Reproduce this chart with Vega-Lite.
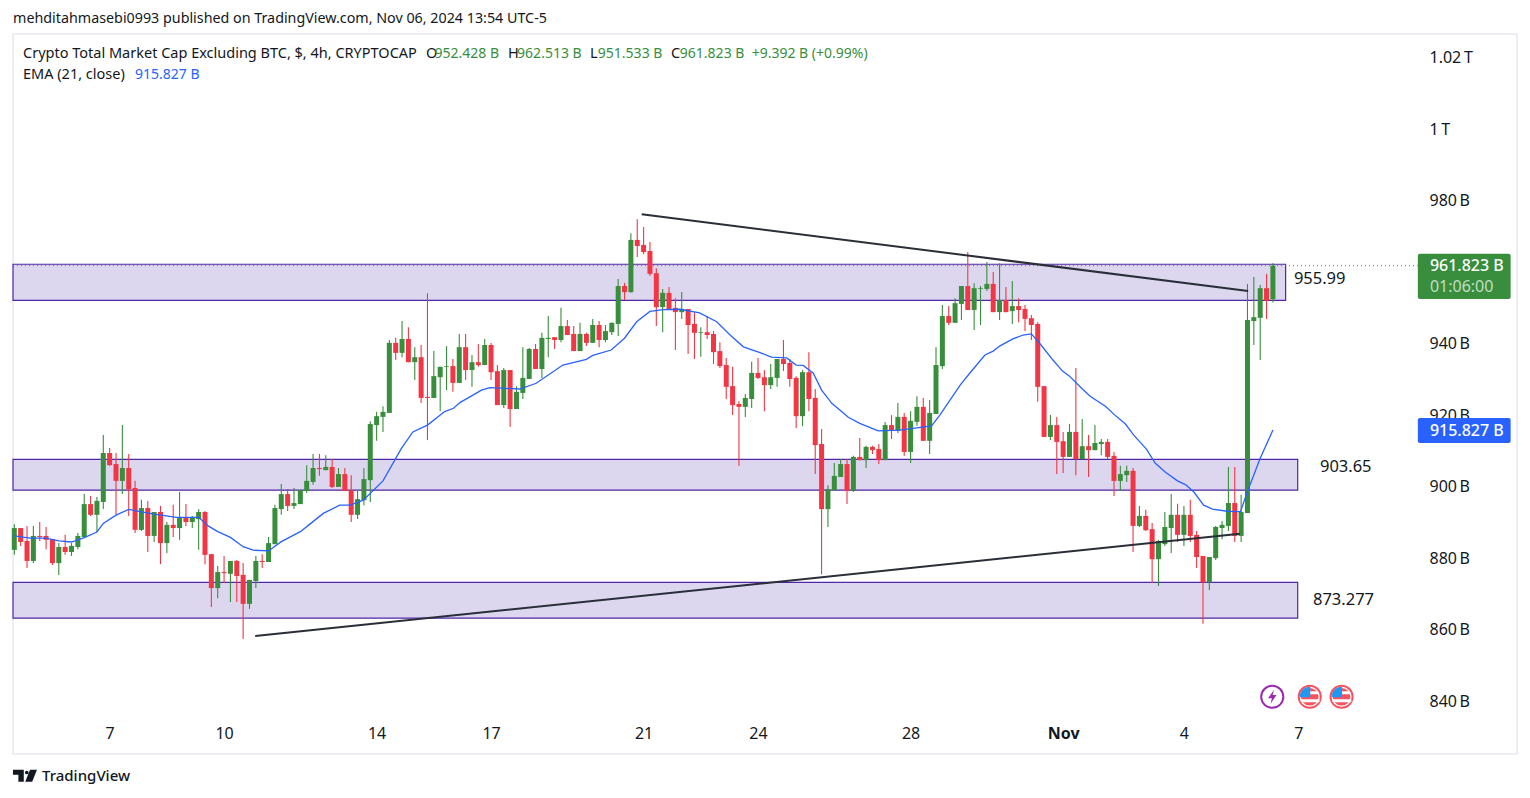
{"$schema":"https://vega.github.io/schema/vega-lite/v6.json","width":1504,"height":720,"autosize":{"type":"none"},"padding":{"left":13,"top":34,"right":13,"bottom":44},"background":"#ffffff","config":{"view":{"stroke":"#eceef4","strokeWidth":2},"font":"Noto Sans"},
"datasets":{
"candles":[{"i":0,"o":882.3,"h":889.5,"l":880.9,"c":888.4},{"i":1,"o":888.4,"h":888.4,"l":883.4,"c":884.5},{"i":2,"o":884.8,"h":889.0,"l":877.2,"c":879.2},{"i":3,"o":879.2,"h":889.0,"l":878.6,"c":886.2},{"i":4,"o":886.2,"h":890.1,"l":884.8,"c":885.9},{"i":5,"o":886.2,"h":888.7,"l":882.5,"c":885.1},{"i":6,"o":885.3,"h":885.3,"l":878.1,"c":878.6},{"i":7,"o":878.6,"h":884.2,"l":875.3,"c":883.1},{"i":8,"o":883.1,"h":886.5,"l":880.9,"c":881.7},{"i":9,"o":881.7,"h":884.2,"l":880.6,"c":883.4},{"i":10,"o":883.1,"h":887.0,"l":882.5,"c":886.2},{"i":11,"o":885.9,"h":897.9,"l":885.6,"c":895.1},{"i":12,"o":895.1,"h":897.4,"l":891.8,"c":892.1},{"i":13,"o":892.1,"h":897.1,"l":887.3,"c":896.0},{"i":14,"o":895.7,"h":914.4,"l":893.7,"c":909.4},{"i":15,"o":909.4,"h":910.8,"l":905.8,"c":906.0},{"i":16,"o":906.3,"h":909.4,"l":892.1,"c":901.6},{"i":17,"o":901.6,"h":917.2,"l":897.9,"c":905.2},{"i":18,"o":905.2,"h":909.1,"l":891.8,"c":899.3},{"i":19,"o":899.6,"h":901.6,"l":887.0,"c":887.9},{"i":20,"o":887.9,"h":896.3,"l":887.6,"c":894.0},{"i":21,"o":894.0,"h":896.0,"l":881.7,"c":886.2},{"i":22,"o":886.2,"h":892.9,"l":884.5,"c":892.9},{"i":23,"o":892.9,"h":894.6,"l":878.3,"c":884.2},{"i":24,"o":884.2,"h":890.1,"l":881.4,"c":889.3},{"i":25,"o":889.3,"h":894.9,"l":885.9,"c":888.4},{"i":26,"o":888.4,"h":898.5,"l":885.1,"c":891.5},{"i":27,"o":891.5,"h":895.1,"l":889.0,"c":890.1},{"i":28,"o":890.1,"h":891.8,"l":888.4,"c":891.5},{"i":29,"o":890.9,"h":893.7,"l":882.3,"c":892.9},{"i":30,"o":892.9,"h":893.2,"l":878.3,"c":880.9},{"i":31,"o":881.1,"h":881.1,"l":866.3,"c":871.6},{"i":32,"o":871.6,"h":877.8,"l":868.8,"c":876.1},{"i":33,"o":876.1,"h":880.6,"l":873.0,"c":875.8},{"i":34,"o":875.6,"h":879.2,"l":867.7,"c":879.2},{"i":35,"o":879.2,"h":879.5,"l":867.7,"c":875.0},{"i":36,"o":875.3,"h":878.6,"l":857.4,"c":867.2},{"i":37,"o":867.2,"h":873.9,"l":865.8,"c":873.9},{"i":38,"o":873.6,"h":880.6,"l":871.6,"c":879.2},{"i":39,"o":879.2,"h":881.1,"l":877.2,"c":878.9},{"i":40,"o":878.9,"h":885.9,"l":878.9,"c":884.2},{"i":41,"o":883.9,"h":894.9,"l":883.9,"c":894.0},{"i":42,"o":893.7,"h":900.7,"l":892.1,"c":897.9},{"i":43,"o":897.9,"h":899.3,"l":893.2,"c":894.6},{"i":44,"o":894.6,"h":899.6,"l":893.7,"c":895.4},{"i":45,"o":895.1,"h":899.0,"l":895.1,"c":899.0},{"i":46,"o":898.8,"h":906.0,"l":898.2,"c":901.6},{"i":47,"o":901.3,"h":909.1,"l":900.5,"c":905.2},{"i":48,"o":905.2,"h":909.1,"l":903.0,"c":904.9},{"i":49,"o":904.6,"h":908.8,"l":904.6,"c":905.5},{"i":50,"o":905.5,"h":907.7,"l":899.6,"c":899.9},{"i":51,"o":899.9,"h":905.2,"l":899.9,"c":903.5},{"i":52,"o":903.5,"h":905.2,"l":898.8,"c":898.8},{"i":53,"o":899.0,"h":903.2,"l":890.1,"c":892.1},{"i":54,"o":892.1,"h":899.0,"l":890.9,"c":896.5},{"i":55,"o":896.2,"h":905.2,"l":894.8,"c":902.1},{"i":56,"o":901.8,"h":918.3,"l":895.7,"c":917.5},{"i":57,"o":917.2,"h":920.9,"l":912.8,"c":919.7},{"i":58,"o":919.5,"h":922.5,"l":915.3,"c":920.9},{"i":59,"o":920.6,"h":941.0,"l":920.6,"c":940.2},{"i":60,"o":940.2,"h":941.6,"l":935.4,"c":937.4},{"i":61,"o":937.4,"h":946.3,"l":936.2,"c":941.3},{"i":62,"o":941.3,"h":944.6,"l":934.8,"c":934.8},{"i":63,"o":934.8,"h":939.0,"l":929.8,"c":936.2},{"i":64,"o":936.2,"h":939.6,"l":923.4,"c":924.8},{"i":65,"o":925.1,"h":954.1,"l":913.0,"c":924.8},{"i":66,"o":924.8,"h":937.9,"l":924.8,"c":930.9},{"i":67,"o":930.6,"h":933.5,"l":921.1,"c":933.5},{"i":68,"o":933.5,"h":939.3,"l":927.0,"c":933.7},{"i":69,"o":933.7,"h":935.7,"l":926.5,"c":929.0},{"i":70,"o":929.0,"h":942.7,"l":929.0,"c":939.0},{"i":71,"o":939.0,"h":942.7,"l":929.8,"c":932.6},{"i":72,"o":932.6,"h":936.8,"l":927.9,"c":934.8},{"i":73,"o":934.8,"h":939.9,"l":933.5,"c":934.0},{"i":74,"o":934.0,"h":941.3,"l":934.0,"c":939.6},{"i":75,"o":939.6,"h":940.2,"l":929.8,"c":932.0},{"i":76,"o":932.3,"h":934.0,"l":922.8,"c":922.8},{"i":77,"o":922.8,"h":933.2,"l":922.0,"c":932.6},{"i":78,"o":932.6,"h":932.6,"l":916.7,"c":921.7},{"i":79,"o":921.7,"h":928.1,"l":921.7,"c":926.5},{"i":80,"o":926.2,"h":939.0,"l":924.5,"c":930.4},{"i":81,"o":930.1,"h":938.8,"l":930.1,"c":938.5},{"i":82,"o":938.5,"h":939.9,"l":932.9,"c":932.9},{"i":83,"o":932.9,"h":943.0,"l":930.4,"c":941.6},{"i":84,"o":941.3,"h":947.7,"l":936.2,"c":941.6},{"i":85,"o":941.8,"h":941.8,"l":938.5,"c":941.0},{"i":86,"o":941.0,"h":950.0,"l":940.4,"c":944.9},{"i":87,"o":944.9,"h":946.6,"l":942.4,"c":942.4},{"i":88,"o":942.7,"h":944.9,"l":937.9,"c":937.9},{"i":89,"o":937.9,"h":945.8,"l":937.9,"c":942.7},{"i":90,"o":942.7,"h":943.0,"l":939.3,"c":940.2},{"i":91,"o":940.2,"h":946.9,"l":940.2,"c":945.2},{"i":92,"o":945.2,"h":946.3,"l":939.0,"c":941.0},{"i":93,"o":941.0,"h":945.2,"l":940.4,"c":943.5},{"i":94,"o":943.2,"h":946.0,"l":942.4,"c":945.8},{"i":95,"o":945.5,"h":958.1,"l":942.1,"c":956.1},{"i":96,"o":956.1,"h":957.0,"l":952.2,"c":954.4},{"i":97,"o":954.4,"h":970.9,"l":954.2,"c":969.0},{"i":98,"o":969.0,"h":974.8,"l":964.2,"c":967.3},{"i":99,"o":967.6,"h":972.6,"l":965.0,"c":965.6},{"i":100,"o":965.9,"h":968.4,"l":958.9,"c":959.5},{"i":101,"o":959.7,"h":961.1,"l":944.9,"c":950.2},{"i":102,"o":950.2,"h":955.3,"l":943.2,"c":954.2},{"i":103,"o":954.2,"h":955.8,"l":949.7,"c":949.7},{"i":104,"o":950.0,"h":952.7,"l":938.2,"c":948.8},{"i":105,"o":948.8,"h":954.4,"l":946.9,"c":949.7},{"i":106,"o":949.7,"h":949.7,"l":937.1,"c":945.2},{"i":107,"o":945.5,"h":948.8,"l":935.7,"c":943.0},{"i":108,"o":943.0,"h":944.6,"l":936.3,"c":943.2},{"i":109,"o":943.2,"h":947.7,"l":941.3,"c":942.4},{"i":110,"o":942.7,"h":943.5,"l":934.3,"c":937.6},{"i":111,"o":937.9,"h":940.4,"l":933.2,"c":933.7},{"i":112,"o":934.0,"h":936.0,"l":924.5,"c":927.9},{"i":113,"o":928.1,"h":933.5,"l":920.0,"c":922.8},{"i":114,"o":923.1,"h":923.9,"l":905.8,"c":922.3},{"i":115,"o":922.3,"h":925.9,"l":919.5,"c":924.8},{"i":116,"o":924.5,"h":934.9,"l":922.0,"c":931.8},{"i":117,"o":931.8,"h":936.0,"l":930.1,"c":930.4},{"i":118,"o":930.6,"h":932.6,"l":921.1,"c":928.4},{"i":119,"o":928.4,"h":934.3,"l":927.3,"c":930.6},{"i":120,"o":930.4,"h":935.7,"l":927.9,"c":935.7},{"i":121,"o":935.7,"h":941.0,"l":932.3,"c":934.3},{"i":122,"o":934.6,"h":935.7,"l":927.9,"c":930.1},{"i":123,"o":930.4,"h":930.9,"l":916.4,"c":919.7},{"i":124,"o":919.7,"h":932.6,"l":916.9,"c":932.0},{"i":125,"o":932.0,"h":937.6,"l":921.1,"c":924.5},{"i":126,"o":924.8,"h":927.3,"l":903.5,"c":911.6},{"i":127,"o":911.9,"h":916.1,"l":875.5,"c":893.7},{"i":128,"o":893.7,"h":900.4,"l":888.7,"c":899.3},{"i":129,"o":899.0,"h":906.6,"l":899.0,"c":903.0},{"i":130,"o":902.7,"h":907.7,"l":902.7,"c":906.3},{"i":131,"o":906.3,"h":907.7,"l":895.1,"c":898.8},{"i":132,"o":898.8,"h":908.6,"l":898.5,"c":908.3},{"i":133,"o":908.3,"h":913.6,"l":907.4,"c":907.4},{"i":134,"o":907.4,"h":911.4,"l":905.2,"c":911.1},{"i":135,"o":911.1,"h":911.4,"l":909.1,"c":910.2},{"i":136,"o":910.5,"h":911.9,"l":906.3,"c":907.4},{"i":137,"o":907.4,"h":918.1,"l":907.4,"c":917.2},{"i":138,"o":917.2,"h":920.0,"l":913.3,"c":915.6},{"i":139,"o":915.6,"h":923.4,"l":915.0,"c":919.5},{"i":140,"o":919.5,"h":920.6,"l":908.6,"c":909.7},{"i":141,"o":909.7,"h":921.1,"l":906.6,"c":918.4},{"i":142,"o":918.1,"h":925.3,"l":917.0,"c":922.3},{"i":143,"o":922.3,"h":924.8,"l":912.8,"c":912.8},{"i":144,"o":912.8,"h":924.2,"l":909.1,"c":920.6},{"i":145,"o":920.3,"h":939.0,"l":920.3,"c":934.0},{"i":146,"o":933.7,"h":950.8,"l":932.9,"c":947.7},{"i":147,"o":947.7,"h":950.5,"l":945.2,"c":945.8},{"i":148,"o":945.8,"h":952.7,"l":945.8,"c":951.3},{"i":149,"o":951.1,"h":956.1,"l":946.6,"c":956.1},{"i":150,"o":956.1,"h":965.6,"l":949.4,"c":949.4},{"i":151,"o":949.4,"h":956.9,"l":943.8,"c":955.5},{"i":152,"o":955.3,"h":956.1,"l":945.2,"c":955.5},{"i":153,"o":955.3,"h":962.8,"l":954.7,"c":956.7},{"i":154,"o":956.7,"h":960.0,"l":948.8,"c":948.8},{"i":155,"o":948.8,"h":962.5,"l":946.6,"c":952.2},{"i":156,"o":952.2,"h":955.8,"l":948.8,"c":948.8},{"i":157,"o":949.1,"h":957.5,"l":945.5,"c":950.5},{"i":158,"o":950.5,"h":952.7,"l":946.0,"c":949.4},{"i":159,"o":949.7,"h":950.8,"l":943.5,"c":946.9},{"i":160,"o":947.1,"h":948.0,"l":941.0,"c":945.2},{"i":161,"o":945.5,"h":946.0,"l":923.7,"c":927.9},{"i":162,"o":928.1,"h":928.1,"l":913.9,"c":913.9},{"i":163,"o":913.9,"h":920.0,"l":913.0,"c":917.2},{"i":164,"o":917.2,"h":919.5,"l":903.5,"c":912.5},{"i":165,"o":912.7,"h":915.3,"l":903.8,"c":908.3},{"i":166,"o":908.3,"h":917.5,"l":908.3,"c":915.3},{"i":167,"o":915.3,"h":933.2,"l":903.2,"c":907.7},{"i":168,"o":907.7,"h":918.9,"l":907.7,"c":911.3},{"i":169,"o":911.3,"h":914.4,"l":902.7,"c":910.2},{"i":170,"o":910.2,"h":917.2,"l":910.2,"c":912.2},{"i":171,"o":911.9,"h":913.3,"l":908.8,"c":912.5},{"i":172,"o":912.5,"h":913.3,"l":907.7,"c":908.3},{"i":173,"o":908.6,"h":909.7,"l":897.4,"c":901.6},{"i":174,"o":901.6,"h":905.8,"l":898.8,"c":903.5},{"i":175,"o":903.2,"h":905.8,"l":901.3,"c":904.4},{"i":176,"o":904.4,"h":905.2,"l":881.7,"c":889.0},{"i":177,"o":889.0,"h":894.6,"l":888.7,"c":891.8},{"i":178,"o":891.8,"h":893.5,"l":887.6,"c":887.8},{"i":179,"o":888.1,"h":889.8,"l":873.0,"c":879.7},{"i":180,"o":879.7,"h":885.1,"l":872.2,"c":884.8},{"i":181,"o":883.9,"h":892.9,"l":883.4,"c":888.7},{"i":182,"o":888.4,"h":897.9,"l":881.4,"c":892.1},{"i":183,"o":892.1,"h":895.2,"l":884.5,"c":886.5},{"i":184,"o":886.5,"h":894.6,"l":883.4,"c":892.1},{"i":185,"o":892.1,"h":896.3,"l":884.5,"c":886.2},{"i":186,"o":886.5,"h":887.6,"l":877.2,"c":880.3},{"i":187,"o":880.6,"h":880.6,"l":861.6,"c":873.2},{"i":188,"o":873.2,"h":880.3,"l":871.1,"c":880.3},{"i":189,"o":880.0,"h":889.0,"l":879.5,"c":888.7},{"i":190,"o":888.4,"h":890.4,"l":885.3,"c":889.3},{"i":191,"o":889.0,"h":905.5,"l":887.6,"c":895.4},{"i":192,"o":895.4,"h":905.5,"l":884.5,"c":886.2},{"i":193,"o":886.2,"h":897.7,"l":884.5,"c":892.9},{"i":194,"o":892.6,"h":956.7,"l":892.6,"c":946.6},{"i":195,"o":946.3,"h":958.6,"l":939.6,"c":947.4},{"i":196,"o":947.2,"h":956.4,"l":935.4,"c":955.5},{"i":197,"o":955.5,"h":959.5,"l":946.9,"c":952.0},{"i":198,"o":952.4,"h":962.5,"l":951.5,"c":961.8}],
"ema":[{"i":0,"v":886.2},{"i":2.5,"v":885.6},{"i":5,"v":885.6},{"i":7,"v":884.8},{"i":9,"v":884.5},{"i":11,"v":885.7},{"i":13,"v":887.3},{"i":14,"v":889.7},{"i":16,"v":892.0},{"i":18,"v":893.6},{"i":20,"v":892.9},{"i":22,"v":892.3},{"i":25.5,"v":891.4},{"i":29,"v":891.4},{"i":30.5,"v":889.0},{"i":32,"v":887.4},{"i":34,"v":885.8},{"i":36,"v":883.2},{"i":37.6,"v":882.2},{"i":40,"v":882.0},{"i":42,"v":884.6},{"i":45,"v":887.4},{"i":46.5,"v":889.5},{"i":48.6,"v":892.5},{"i":51.2,"v":894.8},{"i":52.8,"v":894.8},{"i":54.9,"v":896.2},{"i":58,"v":901.6},{"i":60.9,"v":910.7},{"i":62.7,"v":915.3},{"i":65,"v":917.2},{"i":67.7,"v":921.0},{"i":69.1,"v":921.9},{"i":70.1,"v":923.5},{"i":73.5,"v":927.0},{"i":74.8,"v":927.7},{"i":79.5,"v":927.3},{"i":82.1,"v":928.9},{"i":86.3,"v":934.0},{"i":90,"v":935.6},{"i":91,"v":936.7},{"i":93.9,"v":938.2},{"i":96,"v":941.5},{"i":97.9,"v":946.1},{"i":100,"v":949.0},{"i":102.1,"v":949.5},{"i":104.7,"v":949.6},{"i":107.8,"v":948.6},{"i":110.5,"v":946.1},{"i":112.6,"v":942.4},{"i":114.7,"v":939.1},{"i":117.3,"v":937.5},{"i":119.1,"v":936.2},{"i":121.5,"v":936.0},{"i":123,"v":934.0},{"i":124.1,"v":933.9},{"i":125.7,"v":931.7},{"i":127,"v":927.0},{"i":128.6,"v":923.3},{"i":130.1,"v":921.1},{"i":131.2,"v":919.4},{"i":133,"v":917.7},{"i":135.9,"v":915.6},{"i":139.3,"v":915.8},{"i":142,"v":916.4},{"i":144.3,"v":917.0},{"i":145.6,"v":920.0},{"i":147.2,"v":924.2},{"i":148.8,"v":928.4},{"i":150.3,"v":931.7},{"i":152.7,"v":936.8},{"i":154,"v":937.9},{"i":155,"v":939.3},{"i":157.1,"v":941.3},{"i":158.7,"v":942.4},{"i":160,"v":942.7},{"i":161.3,"v":940.1},{"i":163.4,"v":935.4},{"i":164.9,"v":932.3},{"i":166,"v":930.9},{"i":167.9,"v":927.5},{"i":169.3,"v":925.2},{"i":171.7,"v":922.4},{"i":173,"v":920.2},{"i":174.8,"v":917.5},{"i":176.1,"v":914.4},{"i":178.1,"v":910.5},{"i":179.5,"v":906.5},{"i":181.1,"v":904.0},{"i":183,"v":901.6},{"i":184.3,"v":900.5},{"i":185.6,"v":898.4},{"i":187.1,"v":894.8},{"i":188.5,"v":893.7},{"i":190.8,"v":893.1},{"i":192.9,"v":893.0},{"i":194,"v":898.6},{"i":196,"v":907.9},{"i":198,"v":915.8}],
"zones":[{"a":-0.2,"b":200,"lo":952.1,"hi":962.2},{"a":-0.2,"b":201.9,"lo":899,"hi":907.6},{"a":-0.2,"b":201.9,"lo":863.2,"hi":873.2}],
"trends":[{"t":"up","i":98.7,"v":976.2},{"t":"up","i":194.1,"v":954.7},{"t":"low","i":37.9,"v":858.2},{"t":"low","i":192.8,"v":886.8}],
"last":[{"i":-0.2,"v":961.8},{"i":220.8,"v":961.8}],
"levels":[{"label":"955.99","i":201.3,"v":958.1},{"label":"903.65","i":205.4,"v":905.5},{"label":"873.277","i":204.3,"v":868.3}],
"headline":[{"label":"mehditahmasebi0993 published on TradingView.com, Nov 06, 2024 13:54 UTC-5","i":-0.2,"v":1030.8}],
"darktext":[{"label":"Crypto Total Market Cap Excluding BTC, $, 4h, CRYPTOCAP","i":1.37,"v":1021.0},{"label":"O","i":64.76,"v":1021.0},{"label":"H","i":77.66,"v":1021.0},{"label":"L","i":90.56,"v":1021.0},{"label":"C","i":103.3,"v":1021.0},{"label":"EMA (21, close)","i":1.37,"v":1015.1}],
"greentext":[{"label":"952.428 B","i":66.1,"v":1021.0},{"label":"962.513 B","i":79.1,"v":1021.0},{"label":"951.533 B","i":91.8,"v":1021.0},{"label":"961.823 B","i":104.7,"v":1021.0},{"label":"+9.392 B (+0.99%)","i":116.0,"v":1021.0}],
"bluetext":[{"label":"915.827 B","i":19.0,"v":1015.1}],
"tags":[{"a":220.8,"b":235.4,"lo":952.5,"hi":965.1,"kind":"close"},{"a":220.8,"b":235.4,"lo":912.2,"hi":919.2,"kind":"ema"}],
"tagtext":[{"label":"961.823 B","i":222.7,"v":961.7},{"label":"915.827 B","i":222.7,"v":915.6}],
"timer":[{"label":"01:06:00","i":222.7,"v":955.8}],
"bolt":[{"i":197.9,"v":841.2}],
"flags":[{"i":203.8,"v":841.2},{"i":208.8,"v":841.2}],
"brand":[{"label":"TradingView","i":4.36,"v":819.1}],
"logo":[{"i":1.68,"v":819.1}]
},
"layer":[
{"data":{"name":"zones"},"mark":{"type":"rect","fill":"#dcd7ee","stroke":"#5027a8","strokeWidth":1.2},"encoding":{"x":{"field":"a","type":"quantitative","title":null,"scale":{"domain":[-0.2045,236.4],"nice":false,"zero":false,"padding":0},"axis":{"orient":"bottom","offset":-29,"values":[15,33,57,75,99,117,141,165,184,202],"labelExpr":"{'15':'7','33':'10','57':'14','75':'17','99':'21','117':'24','141':'28','165':'Nov','184':'4','202':'7'}[datum.value]","ticks":false,"domain":false,"grid":false,"labelFontSize":16,"labelColor":"#131722","labelFont":"Noto Sans","labelPadding":0,"labelBaseline":"top","labelFontWeight":{"condition":{"test":"datum.value==165","value":"bold"},"value":"normal"}}},"x2":{"field":"b"},"y":{"field":"lo","type":"quantitative","title":null,"scale":{"domain":[825.2,1026.6],"nice":false,"zero":false},"axis":{"orient":"right","offset":-88,"values":[840,860,880,900,920,940,980,1000,1020],"labelExpr":"datum.value>=1000?format(datum.value/1000,'.2~f')+'\u2009T':datum.value+'\u2009B'","ticks":false,"domain":false,"grid":false,"labelFontSize":16,"labelColor":"#131722","labelFont":"Noto Sans","labelPadding":0,"labelAlign":"left"}},"y2":{"field":"hi"}}},
{"data":{"name":"last"},"mark":{"type":"line","color":"#388e3c","strokeWidth":1,"strokeDash":[1,3]},"encoding":{"x":{"field":"i","type":"quantitative","title":null,"scale":{"domain":[-0.2045,236.4],"nice":false,"zero":false,"padding":0}},"y":{"field":"v","type":"quantitative","title":null,"scale":{"domain":[825.2,1026.6],"nice":false,"zero":false}}}},
{"data":{"name":"candles"},"mark":{"type":"rule","strokeWidth":1.1},"encoding":{"x":{"field":"i","type":"quantitative","title":null,"scale":{"domain":[-0.2045,236.4],"nice":false,"zero":false,"padding":0}},"y":{"field":"l","type":"quantitative","title":null,"scale":{"domain":[825.2,1026.6],"nice":false,"zero":false}},"y2":{"field":"h"},"color":{"condition":{"test":"datum.c>=datum.o","value":"#388e3c"},"value":"#f23645"}}},
{"data":{"name":"candles"},"mark":{"type":"bar","size":5},"encoding":{"x":{"field":"i","type":"quantitative","title":null,"scale":{"domain":[-0.2045,236.4],"nice":false,"zero":false,"padding":0}},"y":{"field":"o","type":"quantitative","title":null,"scale":{"domain":[825.2,1026.6],"nice":false,"zero":false}},"y2":{"field":"c"},"color":{"condition":{"test":"datum.c>=datum.o","value":"#388e3c"},"value":"#f23645"}}},
{"data":{"name":"ema"},"mark":{"type":"line","color":"#2962ff","strokeWidth":1.3},"encoding":{"x":{"field":"i","type":"quantitative","title":null,"scale":{"domain":[-0.2045,236.4],"nice":false,"zero":false,"padding":0}},"y":{"field":"v","type":"quantitative","title":null,"scale":{"domain":[825.2,1026.6],"nice":false,"zero":false}}}},
{"data":{"name":"trends"},"mark":{"type":"line","color":"#2a2e39","strokeWidth":2},"encoding":{"detail":{"field":"t"},"x":{"field":"i","type":"quantitative","title":null,"scale":{"domain":[-0.2045,236.4],"nice":false,"zero":false,"padding":0}},"y":{"field":"v","type":"quantitative","title":null,"scale":{"domain":[825.2,1026.6],"nice":false,"zero":false}}}},
{"data":{"name":"levels"},"mark":{"type":"text","align":"left","baseline":"middle","fontSize":16.5,"color":"#131722"},"encoding":{"text":{"field":"label"},"x":{"field":"i","type":"quantitative","title":null,"scale":{"domain":[-0.2045,236.4],"nice":false,"zero":false,"padding":0}},"y":{"field":"v","type":"quantitative","title":null,"scale":{"domain":[825.2,1026.6],"nice":false,"zero":false}}}},
{"data":{"name":"headline"},"mark":{"type":"text","align":"left","baseline":"middle","fontSize":14.3,"color":"#131722"},"encoding":{"text":{"field":"label"},"x":{"field":"i","type":"quantitative","title":null,"scale":{"domain":[-0.2045,236.4],"nice":false,"zero":false,"padding":0}},"y":{"field":"v","type":"quantitative","title":null,"scale":{"domain":[825.2,1026.6],"nice":false,"zero":false}}}},
{"data":{"name":"darktext"},"mark":{"type":"text","align":"left","baseline":"middle","fontSize":14.5,"color":"#131722"},"encoding":{"text":{"field":"label"},"x":{"field":"i","type":"quantitative","title":null,"scale":{"domain":[-0.2045,236.4],"nice":false,"zero":false,"padding":0}},"y":{"field":"v","type":"quantitative","title":null,"scale":{"domain":[825.2,1026.6],"nice":false,"zero":false}}}},
{"data":{"name":"greentext"},"mark":{"type":"text","align":"left","baseline":"middle","fontSize":14,"color":"#388e3c"},"encoding":{"text":{"field":"label"},"x":{"field":"i","type":"quantitative","title":null,"scale":{"domain":[-0.2045,236.4],"nice":false,"zero":false,"padding":0}},"y":{"field":"v","type":"quantitative","title":null,"scale":{"domain":[825.2,1026.6],"nice":false,"zero":false}}}},
{"data":{"name":"bluetext"},"mark":{"type":"text","align":"left","baseline":"middle","fontSize":14,"color":"#2962ff"},"encoding":{"text":{"field":"label"},"x":{"field":"i","type":"quantitative","title":null,"scale":{"domain":[-0.2045,236.4],"nice":false,"zero":false,"padding":0}},"y":{"field":"v","type":"quantitative","title":null,"scale":{"domain":[825.2,1026.6],"nice":false,"zero":false}}}},
{"data":{"name":"tags"},"mark":{"type":"rect","cornerRadius":2},"encoding":{"x":{"field":"a","type":"quantitative","title":null,"scale":{"domain":[-0.2045,236.4],"nice":false,"zero":false,"padding":0}},"x2":{"field":"b"},"y":{"field":"lo","type":"quantitative","title":null,"scale":{"domain":[825.2,1026.6],"nice":false,"zero":false}},"y2":{"field":"hi"},"color":{"field":"kind","type":"nominal","legend":null,"scale":{"domain":["close","ema"],"range":["#388e3c","#2962ff"]}}}},
{"data":{"name":"tagtext"},"mark":{"type":"text","align":"left","baseline":"middle","fontSize":16,"fontWeight":500,"color":"#ffffff"},"encoding":{"text":{"field":"label"},"x":{"field":"i","type":"quantitative","title":null,"scale":{"domain":[-0.2045,236.4],"nice":false,"zero":false,"padding":0}},"y":{"field":"v","type":"quantitative","title":null,"scale":{"domain":[825.2,1026.6],"nice":false,"zero":false}}}},
{"data":{"name":"timer"},"mark":{"type":"text","align":"left","baseline":"middle","fontSize":16,"color":"#c3ddc5"},"encoding":{"text":{"field":"label"},"x":{"field":"i","type":"quantitative","title":null,"scale":{"domain":[-0.2045,236.4],"nice":false,"zero":false,"padding":0}},"y":{"field":"v","type":"quantitative","title":null,"scale":{"domain":[825.2,1026.6],"nice":false,"zero":false}}}},
{"data":{"name":"bolt"},"mark":{"type":"point","shape":"circle","size":490,"filled":false,"stroke":"#9c27b0","strokeWidth":2,"opacity":1},"encoding":{"x":{"field":"i","type":"quantitative","title":null,"scale":{"domain":[-0.2045,236.4],"nice":false,"zero":false,"padding":0}},"y":{"field":"v","type":"quantitative","title":null,"scale":{"domain":[825.2,1026.6],"nice":false,"zero":false}}}},
{"data":{"name":"bolt"},"mark":{"type":"point","shape":"M0.25,-1 L-0.6,0.2 L-0.05,0.2 L-0.25,1 L0.6,-0.25 L0.05,-0.25 Z","size":196,"filled":true,"fill":"#9c27b0","opacity":1},"encoding":{"x":{"field":"i","type":"quantitative","title":null,"scale":{"domain":[-0.2045,236.4],"nice":false,"zero":false,"padding":0}},"y":{"field":"v","type":"quantitative","title":null,"scale":{"domain":[825.2,1026.6],"nice":false,"zero":false}}}},
{"data":{"name":"flags"},"mark":{"type":"point","shape":"circle","size":490,"filled":false,"stroke":"#f7525f","strokeWidth":2,"opacity":1},"encoding":{"x":{"field":"i","type":"quantitative","title":null,"scale":{"domain":[-0.2045,236.4],"nice":false,"zero":false,"padding":0}},"y":{"field":"v","type":"quantitative","title":null,"scale":{"domain":[825.2,1026.6],"nice":false,"zero":false}}}},
{"data":{"name":"flags"},"mark":{"type":"point","shape":"circle","size":310,"filled":true,"fill":"#f7525f","opacity":1},"encoding":{"x":{"field":"i","type":"quantitative","title":null,"scale":{"domain":[-0.2045,236.4],"nice":false,"zero":false,"padding":0}},"y":{"field":"v","type":"quantitative","title":null,"scale":{"domain":[825.2,1026.6],"nice":false,"zero":false}}}},
{"data":{"name":"flags"},"mark":{"type":"point","shape":"M0,-0.55 H0.82 V-0.25 H0 Z M-0.97,0.25 H0.97 V0.55 H-0.85 Z","size":400,"filled":true,"fill":"#ffffff","opacity":1},"encoding":{"x":{"field":"i","type":"quantitative","title":null,"scale":{"domain":[-0.2045,236.4],"nice":false,"zero":false,"padding":0}},"y":{"field":"v","type":"quantitative","title":null,"scale":{"domain":[825.2,1026.6],"nice":false,"zero":false}}}},
{"data":{"name":"flags"},"mark":{"type":"point","shape":"M0.05,-1 A1,1 0 0 0 -1,0.05 L0.05,0.05 Z","size":400,"filled":true,"fill":"#2196f3","opacity":1},"encoding":{"x":{"field":"i","type":"quantitative","title":null,"scale":{"domain":[-0.2045,236.4],"nice":false,"zero":false,"padding":0}},"y":{"field":"v","type":"quantitative","title":null,"scale":{"domain":[825.2,1026.6],"nice":false,"zero":false}}}},
{"data":{"name":"logo"},"mark":{"type":"point","shape":"M-1,-0.5 H-0.1 V0.5 H-0.55 V-0.08 H-1 Z M0.3,-0.28 A0.15,0.15 0 1 1 0,-0.28 A0.15,0.15 0 1 1 0.3,-0.28 Z M0.42,-0.5 H1 L0.6,0.5 H0.02 Z","size":576,"filled":true,"fill":"#131722","opacity":1},"encoding":{"x":{"field":"i","type":"quantitative","title":null,"scale":{"domain":[-0.2045,236.4],"nice":false,"zero":false,"padding":0}},"y":{"field":"v","type":"quantitative","title":null,"scale":{"domain":[825.2,1026.6],"nice":false,"zero":false}}}},
{"data":{"name":"brand"},"mark":{"type":"text","align":"left","baseline":"middle","fontSize":15,"fontWeight":500,"color":"#131722"},"encoding":{"text":{"field":"label"},"x":{"field":"i","type":"quantitative","title":null,"scale":{"domain":[-0.2045,236.4],"nice":false,"zero":false,"padding":0}},"y":{"field":"v","type":"quantitative","title":null,"scale":{"domain":[825.2,1026.6],"nice":false,"zero":false}}}}
]}
